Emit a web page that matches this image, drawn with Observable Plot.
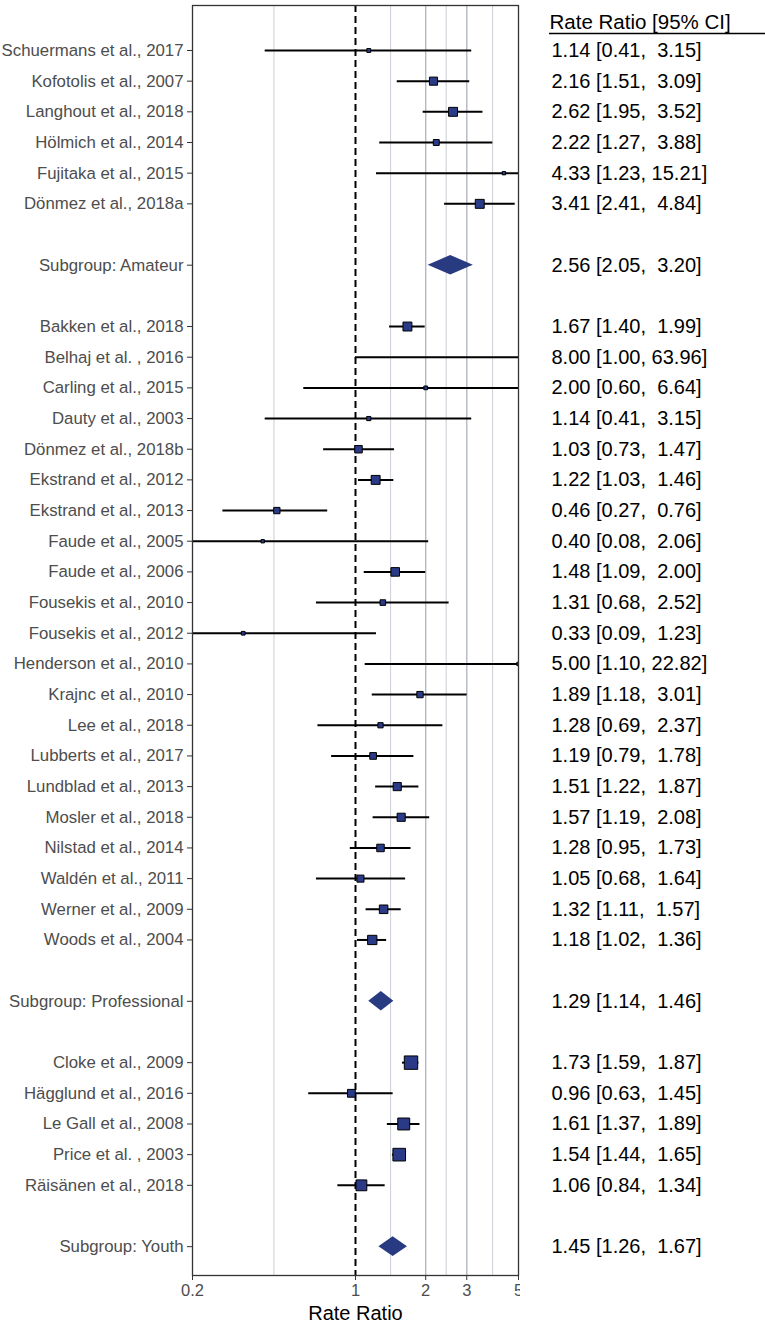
<!DOCTYPE html>
<html>
<head>
<meta charset="utf-8">
<script src="https://cdn.jsdelivr.net/npm/d3@7"></script>
<script src="https://cdn.jsdelivr.net/npm/@observablehq/plot@0.6"></script>
<style>
  html, body { margin: 0; padding: 0; background: #fff; }
  #chart svg text { white-space: pre; }
</style>
</head>
<body>
<div id="chart"></div>
<script>
// ---------------- data ----------------
const studyNames = [
  "Schuermans et al., 2017", "Kofotolis et al., 2007", "Langhout et al., 2018",
  "Hölmich et al., 2014", "Fujitaka et al., 2015", "Dönmez et al., 2018a",
  "Bakken et al., 2018", "Belhaj et al. , 2016", "Carling et al., 2015",
  "Dauty et al., 2003", "Dönmez et al., 2018b", "Ekstrand et al., 2012",
  "Ekstrand et al., 2013", "Faude et al., 2005", "Faude et al., 2006",
  "Fousekis et al., 2010", "Fousekis et al., 2012", "Henderson et al., 2010",
  "Krajnc et al., 2010", "Lee et al., 2018", "Lubberts et al., 2017",
  "Lundblad et al., 2013", "Mosler et al., 2018", "Nilstad et al., 2014",
  "Waldén et al., 2011", "Werner et al., 2009", "Woods et al., 2004",
  "Cloke et al., 2009", "Hägglund et al., 2016", "Le Gall et al., 2008",
  "Price et al. , 2003", "Räisänen et al., 2018"
];
const studyGroup = [
  "Amateur", "Amateur", "Amateur", "Amateur", "Amateur", "Amateur",
  "Professional", "Professional", "Professional", "Professional", "Professional",
  "Professional", "Professional", "Professional", "Professional", "Professional",
  "Professional", "Professional", "Professional", "Professional", "Professional",
  "Professional", "Professional", "Professional", "Professional", "Professional",
  "Professional",
  "Youth", "Youth", "Youth", "Youth", "Youth"
];
const rateRatio = [
  1.14, 2.16, 2.62, 2.22, 4.33, 3.41,
  1.67, 8.00, 2.00, 1.14, 1.03, 1.22, 0.46, 0.40, 1.48, 1.31, 0.33, 5.00,
  1.89, 1.28, 1.19, 1.51, 1.57, 1.28, 1.05, 1.32, 1.18,
  1.73, 0.96, 1.61, 1.54, 1.06
];
const ciLower = [
  0.41, 1.51, 1.95, 1.27, 1.23, 2.41,
  1.40, 1.00, 0.60, 0.41, 0.73, 1.03, 0.27, 0.08, 1.09, 0.68, 0.09, 1.10,
  1.18, 0.69, 0.79, 1.22, 1.19, 0.95, 0.68, 1.11, 1.02,
  1.59, 0.63, 1.37, 1.44, 0.84
];
const ciUpper = [
  3.15, 3.09, 3.52, 3.88, 15.21, 4.84,
  1.99, 63.96, 6.64, 3.15, 1.47, 1.46, 0.76, 2.06, 2.00, 2.52, 1.23, 22.82,
  3.01, 2.37, 1.78, 1.87, 2.08, 1.73, 1.64, 1.57, 1.36,
  1.87, 1.45, 1.89, 1.65, 1.34
];
// relative study weights
const studyWeight = [
  1.2, 5.3, 6.4, 2.8, 0.9, 6.4,
  6.4, 0.9, 1.1, 1.4, 4.5, 6.4, 3.2, 0.9, 5.9, 2.5, 1.1, 0.9,
  3.2, 2.2, 3.6, 5.3, 5.3, 4.5, 4.0, 5.9, 6.9,
  14.4, 4.9, 11.4, 12.8, 9.4
];
const subgroupNames = ["Amateur", "Professional", "Youth"];
const subgroupRR = [2.56, 1.29, 1.45];
const subgroupLower = [2.05, 1.14, 1.26];
const subgroupUpper = [3.20, 1.46, 1.67];

const xTicks = [0.2, 1, 2, 3, 5];
const xMajorGrid = [2, 3];
const xMinorGrid = [0.447, 1.414, 2.449, 3.873];
const nullValue = 1;
const headerText = "Rate Ratio [95% CI]";
const xLabel = "Rate Ratio";

// ---------------- table building ----------------
const fmt = (e, l, h) => `${e.toFixed(2)} [${l.toFixed(2).padStart(4)}, ${h.toFixed(2).padStart(5)}]`;
const studyRows = [], subRows = [];
let row = 1;
subgroupNames.forEach((g, gi) => {
  studyNames.forEach((n, i) => {
    if (studyGroup[i] === g) {
      studyRows.push({label: n, row, rr: rateRatio[i], lo: ciLower[i], hi: ciUpper[i], w: studyWeight[i],
        ci: fmt(rateRatio[i], ciLower[i], ciUpper[i])});
      row++;
    }
  });
  row++;
  subRows.push({label: "Subgroup: " + g, row, rr: subgroupRR[gi], lo: subgroupLower[gi], hi: subgroupUpper[gi],
    ci: fmt(subgroupRR[gi], subgroupLower[gi], subgroupUpper[gi])});
  row += 2;
});
const allRows = [...studyRows, ...subRows].sort((a, b) => a.row - b.row);
const labelByRow = new Map(allRows.map(d => [d.row, d.label]));
const dh = 0.32; // diamond half height in row units
const diamonds = subRows.flatMap(d => [
  {label: d.label, x: d.lo, y1: d.row, y2: d.row},
  {label: d.label, x: d.rr, y1: d.row - dh, y2: d.row + dh},
  {label: d.label, x: d.hi, y1: d.row, y2: d.row}
]);

const navy = "#2a3a86";
const font = "'Liberation Sans', Arial, Helvetica, sans-serif";

const chart = Plot.plot({
  width: 765,
  height: 1324,
  marginLeft: 192,
  marginRight: 247,
  marginTop: 5,
  marginBottom: 49,
  style: {fontFamily: font, background: "#fff", overflow: "visible"},
  x: {type: "log", domain: [0.2, 5]},
  y: {domain: [-0.467, 40.94], reverse: true},
  r: {type: "sqrt", domain: [0, 10], range: [0, 6.3]},
  marks: [
    Plot.ruleX(xMinorGrid, {stroke: "#cbcfd5", strokeWidth: 1}),
    Plot.ruleX(xMajorGrid, {stroke: "#b5b9c1", strokeWidth: 1.4}),
    Plot.ruleX([nullValue], {stroke: "#000", strokeWidth: 2, strokeDasharray: "7,4"}),
    Plot.ruleY(studyRows, {y: "row", x1: "lo", x2: "hi", stroke: "#000", strokeWidth: 2, clip: true}),
    Plot.dot(studyRows, {x: "rr", y: "row", r: "w", symbol: "square", fill: navy, stroke: "#000", strokeWidth: 1, clip: true}),
    Plot.areaY(diamonds, {x: "x", y1: "y1", y2: "y2", z: "label", fill: "#283a80", curve: "linear", clip: true}),
    Plot.frame({stroke: "#333", strokeWidth: 1.3}),
    Plot.axisY({
      ticks: allRows.map(d => d.row),
      tickFormat: r => labelByRow.get(r),
      tickSize: 5, tickPadding: 4,
      fontSize: 16.8, stroke: "#333", fill: "#4d4d4d",
      label: null
    }),
    Plot.axisX({
      ticks: xTicks,
      tickFormat: d => String(d),
      tickSize: 5, tickPadding: 4,
      fontSize: 16.5, stroke: "#333", fill: "#4d4d4d",
      label: null
    }),
    Plot.text(allRows, {
      y: "row", text: "ci", frameAnchor: "right", dx: 33, textAnchor: "start",
      fontSize: 20, fill: "#000"
    }),
    Plot.text([headerText], {
      frameAnchor: "top-right", dx: 31, dy: 16.5, textAnchor: "start", lineAnchor: "middle",
      fontSize: 20.5, fill: "#000"
    }),
    Plot.text([xLabel], {
      frameAnchor: "bottom", dy: 38, lineAnchor: "middle",
      fontSize: 20, fill: "#000"
    })
  ]
});

document.getElementById("chart").appendChild(chart);

const svg = d3.select(chart);
// header underline
svg.append("line")
  .attr("x1", 549).attr("x2", 765).attr("y1", 33.5).attr("y2", 33.5)
  .attr("stroke", "#000").attr("stroke-width", 1.4);
// last tick label is cut by the table column in the reference
svg.append("rect")
  .attr("x", 520).attr("y", 1282).attr("width", 25).attr("height", 22)
  .attr("fill", "#fff");
</script>
</body>
</html>
